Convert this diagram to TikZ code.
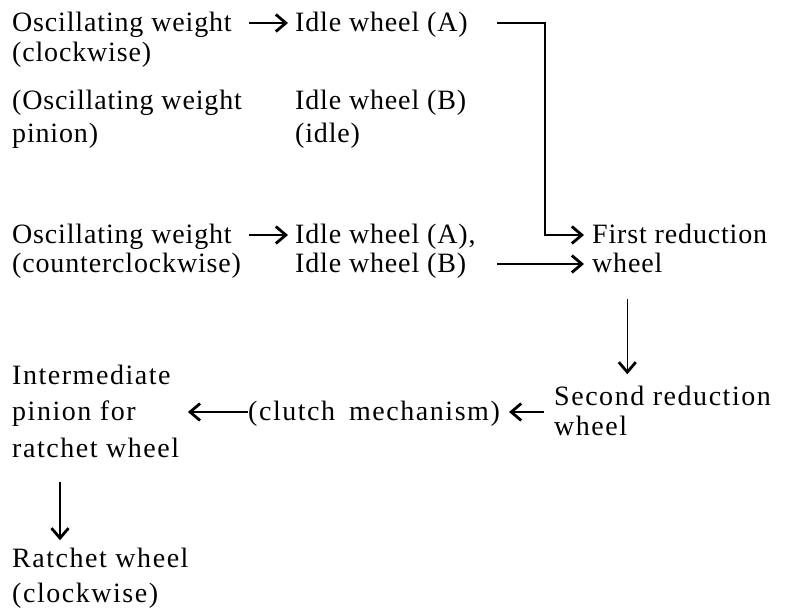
\documentclass[tikz,border=0pt]{standalone}
\usepackage{fontspec}
\setmainfont{Liberation Serif}
\newfontfamily\partfont[LetterSpace=3]{Liberation Serif}
\newfontfamily\widefont[LetterSpace=5.5]{Liberation Serif}
\usetikzlibrary{arrows.meta,positioning}
\tikzset
{
    part/.style  = {anchor=west, inner sep=0pt, text height=19pt, text depth=2pt, font=\partfont\fontsize{28}{30}\selectfont},
    wide/.style  = {part, font=\widefont\fontsize{28}{30}\selectfont},
    arrow/.style = {line width=1.3pt, -{Straight Barb[length=10pt,width=17pt,line width=2.8pt]}},
}

\begin{document}
\begin{tikzpicture}[x=1pt, y=-1pt]
	 \newcommand\LINEDY{30}
	 \useasboundingbox (0, 0) rectangle (788, 608);

   % upper rows
   \node (ow1)  [part] at (12, 23)                               {Oscillating weight};
   \node (ow2)  [part] at ([shift=({0, \LINEDY})]ow1.west)       {(clockwise)};
   \node (iwa1) [part] at (295, 23)                              {Idle wheel (A)};
   \node (op1)  [part] at (12, 101)                              {(Oscillating weight};
   \node (op2)  [part] at ([shift=({0, 33})]op1.west)            {pinion)};
   \node (iwb1) [part] at (295, 101)                             {Idle wheel (B)};
   \node (iwb2) [part] at ([shift=({0, 33})]iwb1.west)           {(idle)};

   % counterclockwise rows
   \node (ow3)  [part] at (12, 235)                              {Oscillating weight};
   \node (ow4)  [part] at ([shift=({0, 29})]ow3.west)            {(counterclockwise)};
   \node (iwa3) [part] at (295, 235)                             {Idle wheel (A),};
   \node (iwb3) [part] at ([shift=({0, 29})]iwa3.west)           {Idle wheel (B)};
   \node (fr1)  [part] at (592, 235)                             {First reduction};
   \node (fr2)  [part] at ([shift=({0, 29})]fr1.west)            {wheel};

   % lower rows
   \node (sr1)  [wide] at (554, 397)                             {Second reduction};
   \node (sr2)  [wide] at ([shift=({0, \LINEDY})]sr1.west)       {wheel};
   \node (cm)   [wide] at (248, 412)                             {(clutch\hspace{14pt}mechanism)};
   \node (ip1)  [wide] at (12, 376)                              {Intermediate};
   \node (ip2)  [wide] at ([shift=({0, 36})]ip1.west)            {pinion for};
   \node (ip3)  [wide] at ([shift=({0, 37})]ip2.west)            {ratchet wheel};
   \node (rw1)  [wide] at (12, 559)                              {Ratchet wheel};
   \node (rw2)  [wide] at ([shift=({0, 35})]rw1.west)            {(clockwise)};

   \coordinate (bend) at (545, 23);

	 \draw[arrow, shorten <=29pt, shorten >=8pt] (iwa1.east) -- (bend) |- (fr1.west);

	 \path[arrow]
		  (ow1)   edge[shorten <=17pt, shorten >=7pt]   node {} (iwa1)
		  (ow3)   edge[shorten <=17pt, shorten >=7pt]   node {} (iwa3)
		  (iwb3)  edge[shorten <=31pt, shorten >=8pt]   node {} (fr2)
		  (fr2.south)  edge[shorten <=24pt, shorten >=12pt]  node {} (fr2.south |- sr1.north)
		  (cm.east -| sr1.west)  edge[shorten <=10pt, shorten >=9pt]  node {} (cm.east)
		  (cm)    edge[shorten <=0pt, shorten >=52pt]   node {} (ip2)
		  ([xshift=48pt]ip3.south west)  edge[shorten <=22pt, shorten >=8pt]  node {} ([xshift=48pt]rw1.north west);
\end{tikzpicture}
\end{document}
